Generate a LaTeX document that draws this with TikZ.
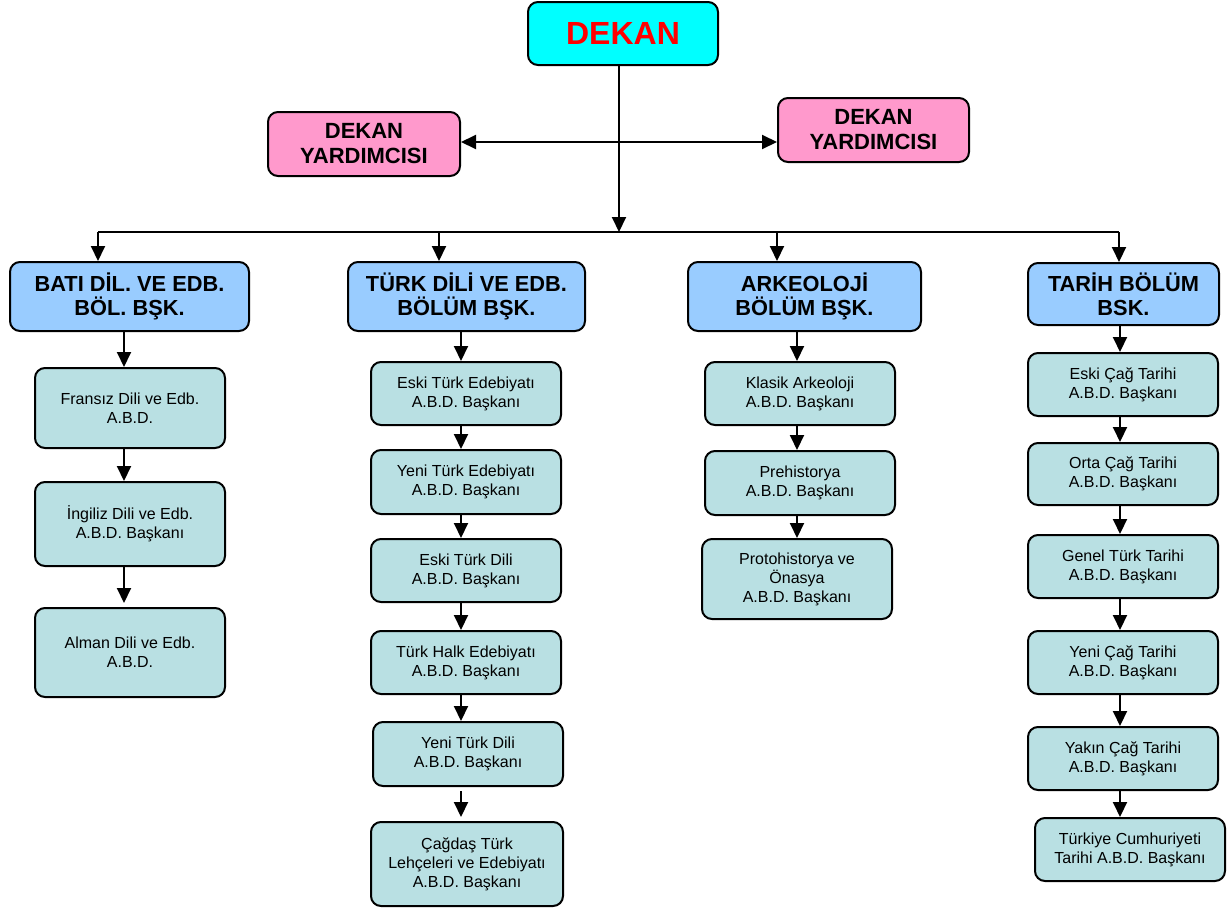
\documentclass[tikz,border=0pt]{standalone}
\usepackage{fontspec}
\setmainfont{Liberation Sans}
\usetikzlibrary{arrows.meta}
\definecolor{dekancol}{HTML}{00FFFF}
\definecolor{dycol}{HTML}{FF99CC}
\definecolor{depcol}{HTML}{99CCFF}
\definecolor{subcol}{HTML}{B9E0E3}
\tikzset{
  base/.style={draw=black, line width=2pt, rounded corners=10pt, align=center, inner sep=2pt},
  dekanbox/.style={base, fill=dekancol, font=\fontsize{32}{36}\selectfont\bfseries, text=red},
  dybox/.style={base, fill=dycol, font=\fontsize{22}{25}\selectfont\bfseries},
  depbox/.style={base, fill=depcol, font=\fontsize{21.8}{24}\selectfont\bfseries},
  subbox/.style={base, fill=subcol, font=\fontsize{16}{19}\selectfont},
  arr/.style={line width=2pt, -{Triangle[width=14pt,length=15pt]}},
  arrb/.style={line width=2pt, {Triangle[width=14pt,length=15pt]}-{Triangle[width=14pt,length=15pt]}},
  bus/.style={line width=2pt}
}
\begin{document}
\begin{tikzpicture}[x=1pt,y=-1pt]
\useasboundingbox (0,0) rectangle (1231,910);
% top
\node[dekanbox, minimum width=190pt, minimum height=63pt] (dekan) at (623,33.5) {DEKAN};
\node[dybox, minimum width=192pt, minimum height=64pt] (dyl) at (364,144) {DEKAN\\YARDIMCISI};
\node[dybox, minimum width=191pt, minimum height=64pt] (dyr) at (873.5,130) {DEKAN\\YARDIMCISI};
% departments
\node[depbox, minimum width=239pt, minimum height=69pt] (d1) at (129.5,296.5) {BATI DİL. VE EDB.\\BÖL. BŞK.};
\node[depbox, minimum width=237pt, minimum height=69pt] (d2) at (466.5,296.5) {TÜRK DİLİ VE EDB.\\BÖLÜM BŞK.};
\node[depbox, minimum width=233pt, minimum height=69pt] (d3) at (804.5,296.5) {ARKEOLOJİ\\BÖLÜM BŞK.};
\node[depbox, minimum width=191pt, minimum height=62pt] (d4) at (1123.5,294) {TARİH BÖLÜM\\BSK.};
% column 1
\node[subbox, minimum width=190pt, minimum height=80pt] (a1) at (130,408) {Fransız Dili ve Edb.\\A.B.D.};
\node[subbox, minimum width=190pt, minimum height=84pt] (a2) at (130,524) {İngiliz Dili ve Edb.\\A.B.D. Başkanı};
\node[subbox, minimum width=190pt, minimum height=89pt] (a3) at (130,652.5) {Alman Dili ve Edb.\\A.B.D.};
% column 2
\node[subbox, minimum width=190pt, minimum height=63pt] (b1) at (466,393.5) {Eski Türk Edebiyatı\\A.B.D. Başkanı};
\node[subbox, minimum width=190pt, minimum height=64pt] (b2) at (466,482) {Yeni Türk Edebiyatı\\A.B.D. Başkanı};
\node[subbox, minimum width=190pt, minimum height=63pt] (b3) at (466,570.5) {Eski Türk Dili\\A.B.D. Başkanı};
\node[subbox, minimum width=190pt, minimum height=63pt] (b4) at (466,662.5) {Türk Halk Edebiyatı\\A.B.D. Başkanı};
\node[subbox, minimum width=190pt, minimum height=64pt] (b5) at (468,754) {Yeni Türk Dili\\A.B.D. Başkanı};
\node[subbox, minimum width=192pt, minimum height=84pt] (b6) at (467,864) {Çağdaş Türk\\Lehçeleri ve Edebiyatı\\A.B.D. Başkanı};
% column 3
\node[subbox, minimum width=190pt, minimum height=63pt] (c1) at (800,393.5) {Klasik Arkeoloji\\A.B.D. Başkanı};
\node[subbox, minimum width=190pt, minimum height=64pt] (c2) at (800,483) {Prehistorya\\A.B.D. Başkanı};
\node[subbox, minimum width=190pt, minimum height=80pt] (c3) at (797,579) {Protohistorya ve\\Önasya\\A.B.D. Başkanı};
% column 4
\node[subbox, minimum width=190pt, minimum height=63pt] (e1) at (1123,384.5) {Eski Çağ Tarihi\\A.B.D. Başkanı};
\node[subbox, minimum width=190pt, minimum height=62pt] (e2) at (1123,474) {Orta Çağ Tarihi\\A.B.D. Başkanı};
\node[subbox, minimum width=190pt, minimum height=63pt] (e3) at (1123,566.5) {Genel Türk Tarihi\\A.B.D. Başkanı};
\node[subbox, minimum width=190pt, minimum height=63pt] (e4) at (1123,662.5) {Yeni Çağ Tarihi\\A.B.D. Başkanı};
\node[subbox, minimum width=190pt, minimum height=63pt] (e5) at (1123,758.5) {Yakın Çağ Tarihi\\A.B.D. Başkanı};
\node[subbox, minimum width=190pt, minimum height=63pt] (e6) at (1130,849.5) {Türkiye Cumhuriyeti\\Tarihi A.B.D. Başkanı};
% coordinates
\coordinate (hy) at (619,142);
\coordinate (bus) at (619,232);
\coordinate (t1) at (98,232);
\coordinate (t2) at (439,232);
\coordinate (t3) at (777,232);
\coordinate (t4) at (1119,232);
% top connectors
\draw[arr] (619,0 |- dekan.south) -- (bus);
\draw[arrb] (dyl.east |- hy) -- (dyr.west |- hy);
\draw[bus] (t1) -- (t4);
\draw[arr] (t1) -- (t1 |- d1.north);
\draw[arr] (t2) -- (t2 |- d2.north);
\draw[arr] (t3) -- (t3 |- d3.north);
\draw[arr] (t4) -- (t4 |- d4.north);
% column arrows
\coordinate (x1) at (124,0);
\coordinate (x2) at (461,0);
\coordinate (x3) at (797,0);
\coordinate (x4) at (1120,0);
\draw[arr] (x1 |- d1.south) -- (x1 |- a1.north);
\draw[arr] (x1 |- a1.south) -- (x1 |- a2.north);
\draw[arr] (x1 |- a2.south) -- ([yshift=4pt]x1 |- a3.north);
\draw[arr] (x2 |- d2.south) -- (x2 |- b1.north);
\draw[arr] (x2 |- b1.south) -- (x2 |- b2.north);
\draw[arr] (x2 |- b2.south) -- (x2 |- b3.north);
\draw[arr] (x2 |- b3.south) -- (x2 |- b4.north);
\draw[arr] (x2 |- b4.south) -- (x2 |- b5.north);
\draw[arr] ([yshift=-4pt]x2 |- b5.south) -- ([yshift=4pt]x2 |- b6.north);
\draw[arr] (x3 |- d3.south) -- (x3 |- c1.north);
\draw[arr] (x3 |- c1.south) -- (x3 |- c2.north);
\draw[arr] (x3 |- c2.south) -- (x3 |- c3.north);
\draw[arr] (x4 |- d4.south) -- (x4 |- e1.north);
\draw[arr] (x4 |- e1.south) -- (x4 |- e2.north);
\draw[arr] (x4 |- e2.south) -- (x4 |- e3.north);
\draw[arr] (x4 |- e3.south) -- (x4 |- e4.north);
\draw[arr] (x4 |- e4.south) -- (x4 |- e5.north);
\draw[arr] (x4 |- e5.south) -- (x4 |- e6.north);
\end{tikzpicture}
\end{document}
